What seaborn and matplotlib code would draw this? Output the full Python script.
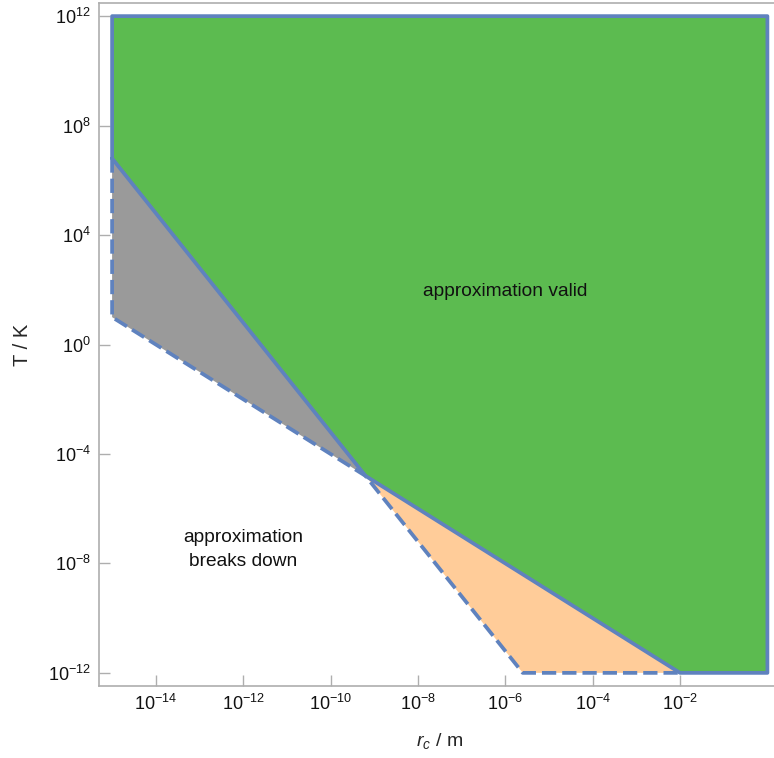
import numpy as np
import pandas as pd
import matplotlib
matplotlib.use("Agg")
import matplotlib.pyplot as plt
import matplotlib.ticker as mticker
import seaborn as sns

# ---- data (log-log) ----
r_min, r_max = 1e-15, 1e0
T_min, T_max = 1e-12, 1e12
r_cross, T_cross = 10**-9.2, 10**-4.8      # crossing point of the two boundaries
T_left_upper = 10**6.8                     # T ~ r^-2 boundary at r_min
T_left_lower = 10**1.0                     # T ~ r^-1 boundary at r_min
r_lower_right = 1e-2                       # T ~ r^-1 boundary hits T_min
r_lower_mid = 10**-5.6                     # T ~ r^-2 boundary hits T_min

green_r = [r_min, r_min, r_max, r_max, r_lower_right, r_cross, r_min]
green_T = [T_left_upper, T_max, T_max, T_min, T_min, T_cross, T_left_upper]
grey_r = [r_min, r_cross, r_min]
grey_T = [T_left_upper, T_cross, T_left_lower]
orange_r = [r_cross, r_lower_right, r_lower_mid]
orange_T = [T_cross, T_min, T_min]

dash_r = [r_min, r_min, r_cross, r_lower_mid, r_lower_right]
dash_T = [T_left_upper, T_left_lower, T_cross, T_min, T_min]

x_ticks = [1e-14, 1e-12, 1e-10, 1e-8, 1e-6, 1e-4, 1e-2]
y_ticks = [1e-12, 1e-8, 1e-4, 1e0, 1e4, 1e8, 1e12]

label_valid = "approximation valid"
label_break = "approximation\nbreaks down"

# ---- style ----
sns.set_theme(style="white")
plt.rcParams["font.family"] = ["Liberation Sans", "DejaVu Sans"]
plt.rcParams["mathtext.fontset"] = "custom"
plt.rcParams["mathtext.rm"] = "Liberation Sans"
plt.rcParams["mathtext.it"] = "Liberation Sans:italic"
plt.rcParams["mathtext.bf"] = "Liberation Sans:bold"

c_green = "#5CBB50"
c_grey = "#9A9A9A"
c_orange = "#FFCC99"
c_line = "#5F82BE"
c_axis = "#AEAEAE"

fig = plt.figure(figsize=(7.74, 7.58), dpi=100)
W, H = 774, 758
left_px, right_px, top_px, bottom_px = 99, 780.5, 3, 686
ax = fig.add_axes([left_px / W, (H - bottom_px) / H,
                   (right_px - left_px) / W, (bottom_px - top_px) / H])
ax.set_xscale("log")
ax.set_yscale("log")

ax.fill(green_r, green_T, color=c_green, lw=0, zorder=1)
ax.fill(grey_r, grey_T, color=c_grey, lw=0, zorder=1)
ax.fill(orange_r, orange_T, color=c_orange, lw=0, zorder=1)

green_df = pd.DataFrame({"r": green_r, "T": green_T})
dash_df = pd.DataFrame({"r": dash_r, "T": dash_T})
sns.lineplot(data=green_df, x="r", y="T", sort=False, estimator=None, ax=ax,
             color=c_line, lw=2.7, zorder=3)
sns.lineplot(data=dash_df, x="r", y="T", sort=False, estimator=None, ax=ax,
             color=c_line, lw=2.7, zorder=2)
ax.lines[-1].set_linestyle((0, (3.8, 1.6)))

ax.set_xlim(10**-15.3, 10**0.3)
ax.set_ylim(10**-12.48, 10**12.48)

ax.xaxis.set_major_locator(mticker.FixedLocator(x_ticks))
ax.yaxis.set_major_locator(mticker.FixedLocator(y_ticks))
ax.xaxis.set_major_formatter(mticker.LogFormatterMathtext())
ax.yaxis.set_major_formatter(mticker.LogFormatterMathtext())
ax.xaxis.set_minor_locator(mticker.NullLocator())
ax.yaxis.set_minor_locator(mticker.NullLocator())
ax.tick_params(axis="both", which="major", direction="in", length=8, width=1,
               color=c_axis, labelsize=13, labelcolor="#111111", pad=6)
ax.tick_params(axis="x", bottom=True)
ax.tick_params(axis="y", left=True)
for s in ax.spines.values():
    s.set_color(c_axis)
    s.set_linewidth(1.2)

ax.set_xlabel(r"$r_c$ / m", fontsize=14, labelpad=12)
ax.set_ylabel("T / K", fontsize=14.5, labelpad=11)

ax.text(10**-6.0, 10**1.95, label_valid, fontsize=13.8, ha="center", va="center",
        color="#111111")
ax.text(10**-12.0, 10**-7.5, label_break, fontsize=13.8, ha="center", va="center",
        color="#111111", linespacing=1.55)

fig.savefig("out.png", dpi=100)
